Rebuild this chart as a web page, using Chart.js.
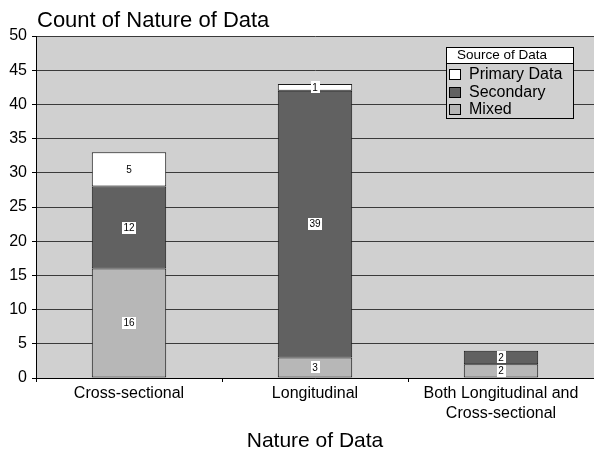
<!DOCTYPE html>
<html>
<head>
<meta charset="utf-8">
<script src="https://cdn.jsdelivr.net/npm/chart.js@4/dist/chart.umd.min.js"></script>
<style>
html,body{margin:0;padding:0;background:#fff;}
canvas{display:block;}
</style>
</head>
<body>
<canvas id="c" width="594" height="459"></canvas>
<script>
const categories = ["Cross-sectional", "Longitudinal", ["Both Longitudinal and", "Cross-sectional"]];
const mixedValues = [16, 3, 2];
const secondaryValues = [12, 39, 2];
const primaryValues = [5, 1, null];
const seriesNames = ["Mixed", "Secondary", "Primary Data"];
const seriesColors = ["#b7b7b7", "#616161", "#ffffff"];
const yTicks = [0, 5, 10, 15, 20, 25, 30, 35, 40, 45, 50];
const chartTitle = "Count of Nature of Data";
const xTitle = "Nature of Data";
const legendTitle = "Source of Data";

const FONT = "'Liberation Sans', Arial, sans-serif";
const PLOT_BG = "#d0d0d0";

const bgPlugin = {
  id: 'bg',
  beforeDraw(chart) {
    const a = chart.chartArea, ctx = chart.ctx;
    ctx.save();
    ctx.fillStyle = PLOT_BG;
    ctx.fillRect(a.left, a.top, a.right - a.left, a.bottom - a.top);
    ctx.restore();
  }
};

const titlePlugin = {
  id: 'ttl',
  afterDraw(chart) {
    const ctx = chart.ctx, a = chart.chartArea;
    ctx.save();
    ctx.font = "22px " + FONT;
    ctx.fillStyle = "#000";
    ctx.textAlign = "left";
    ctx.textBaseline = "alphabetic";
    ctx.fillText(chartTitle, a.left + 1, 27);
    ctx.restore();
  }
};

const labelPlugin = {
  id: 'lbls',
  afterDatasetsDraw(chart) {
    const ctx = chart.ctx;
    ctx.save();
    ctx.font = "10px " + FONT;
    ctx.textAlign = "center";
    ctx.textBaseline = "middle";
    chart.data.datasets.forEach((ds, di) => {
      const meta = chart.getDatasetMeta(di);
      meta.data.forEach((el, i) => {
        const v = ds.data[i];
        if (v === null || v === 0) return;
        const cx = el.x, cy = (el.y + el.base) / 2;
        const t = String(v);
        const w = ctx.measureText(t).width + 3;
        ctx.fillStyle = "#fff";
        ctx.fillRect(Math.round(cx - w / 2), Math.round(cy - 6), Math.round(w), 12);
        ctx.fillStyle = "#000";
        ctx.fillText(t, cx, cy + 0.5);
      });
    });
    ctx.restore();
  }
};

const legendPlugin = {
  id: 'lgd',
  afterDraw(chart) {
    const ctx = chart.ctx;
    const x0 = 446, y0 = 47, w = 127, h = 71, th = 16;
    ctx.save();
    ctx.fillStyle = PLOT_BG;
    ctx.fillRect(x0, y0, w, h);
    ctx.fillStyle = "#fff";
    ctx.fillRect(x0, y0, w, th);
    ctx.strokeStyle = "#000";
    ctx.lineWidth = 1;
    ctx.strokeRect(x0 + 0.5, y0 + 0.5, w, h);
    ctx.beginPath();
    ctx.moveTo(x0, y0 + th + 0.5);
    ctx.lineTo(x0 + w, y0 + th + 0.5);
    ctx.stroke();
    ctx.fillStyle = "#000";
    ctx.font = "13.5px " + FONT;
    ctx.textBaseline = "middle";
    ctx.textAlign = "left";
    ctx.fillText(legendTitle, x0 + 11, y0 + 8.5);
    ctx.font = "16px " + FONT;
    const dss = chart.data.datasets.slice().reverse();
    dss.forEach((ds, k) => {
      const cy = y0 + 27 + k * 17.5;
      ctx.fillStyle = ds.backgroundColor;
      ctx.fillRect(x0 + 3, Math.round(cy - 5), 12, 11);
      ctx.strokeStyle = "#000";
      ctx.strokeRect(x0 + 3.5, Math.round(cy - 5) + 0.5, 11, 10);
      ctx.fillStyle = "#000";
      ctx.fillText(ds.label, x0 + 23, cy + 1);
    });
    ctx.restore();
  }
};

const datasets = [mixedValues, secondaryValues, primaryValues].map((d, i) => ({
  label: seriesNames[i],
  data: d,
  backgroundColor: seriesColors[i],
  borderColor: "#1a1a1a",
  borderWidth: 1,
  borderSkipped: false,
  barPercentage: 0.4,
  categoryPercentage: 1.0
}));

new Chart(document.getElementById('c'), {
  type: 'bar',
  data: { labels: categories, datasets },
  plugins: [bgPlugin, labelPlugin, legendPlugin, titlePlugin],
  options: {
    responsive: false,
    devicePixelRatio: 1,
    animation: false,
    layout: { padding: { top: 36, left: 0, right: 0, bottom: 0 } },
    plugins: { legend: { display: false }, title: { display: false }, tooltip: { enabled: false } },
    scales: {
      x: {
        stacked: true,
        grid: { display: true, drawOnChartArea: false, drawTicks: true, tickLength: 4, color: "#000", offset: true },
        border: { display: true, color: "#000", width: 1 },
        ticks: { color: "#000", font: { family: FONT, size: 16, lineHeight: 1.25 }, padding: 2, maxRotation: 0, autoSkip: false },
        title: { display: true, text: xTitle, color: "#000", font: { family: FONT, size: 21 }, padding: { top: 0, bottom: 5 } },
        afterFit(s) { s.height = 81; }
      },
      y: {
        stacked: true,
        min: 0, max: 50,
        afterBuildTicks(s) { s.ticks = yTicks.map(v => ({ value: v })); },
        grid: { color: "#3a3a3a", lineWidth: 1, tickLength: 4, tickColor: "#000", drawTicks: true },
        border: { display: true, color: "#000", width: 1 },
        ticks: { color: "#000", font: { family: FONT, size: 16 }, padding: 5 },
        afterFit(s) { s.width = 36; }
      }
    }
  }
});
</script>
</body>
</html>
